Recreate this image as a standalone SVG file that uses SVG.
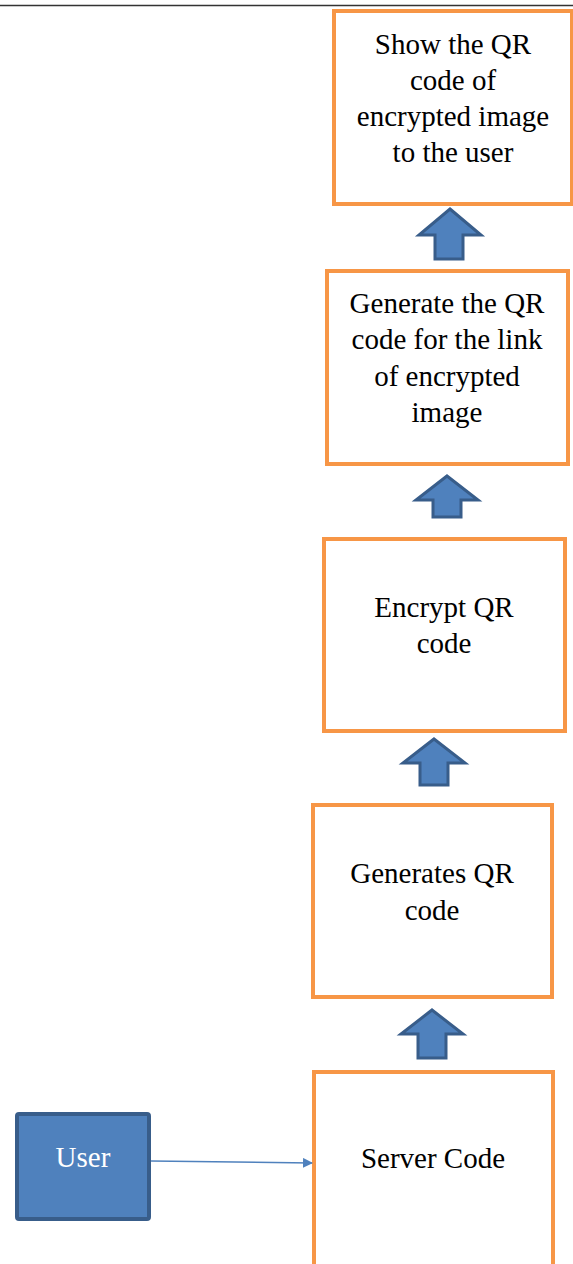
<svg xmlns="http://www.w3.org/2000/svg" width="573" height="1264" viewBox="0 0 573 1264">
<defs>
<style>
.box{fill:#fff;stroke:#F79646;stroke-width:4}
.t{font-family:'Liberation Serif','DejaVu Serif',serif;font-size:29px;fill:#000;text-anchor:middle}
.up{fill:#4F81BD;stroke:#385D8A;stroke-width:3;stroke-linejoin:miter}
</style>
<marker id="ah" markerWidth="10" markerHeight="10" refX="9" refY="5" orient="auto" markerUnits="userSpaceOnUse" viewBox="0 0 10 10">
<path d="M0,0 L10,5 L0,10 z" fill="#4F81BD"/>
</marker>
</defs>
<rect width="573" height="1264" fill="#fff"/>
<line x1="0" y1="5.5" x2="573" y2="5.5" stroke="#333" stroke-width="1.6"/>
<g font-family="Liberation Serif, serif">
<g id="n1"><rect class="box" x="334" y="11" width="238" height="193"/>
<text class="t" font-family="Liberation Serif, serif"><tspan x="453" y="54">Show the QR</tspan><tspan x="453" y="90">code of</tspan><tspan x="453" y="126">encrypted image</tspan><tspan x="453" y="162">to the user</tspan></text></g>
<g id="n2"><rect class="box" x="327" y="271" width="241" height="193"/>
<text class="t" font-family="Liberation Serif, serif"><tspan x="447" y="313">Generate the QR</tspan><tspan x="447" y="349">code for the link</tspan><tspan x="447" y="386">of encrypted</tspan><tspan x="447" y="422">image</tspan></text></g>
<g id="n3"><rect class="box" x="324" y="539" width="241" height="192"/>
<text class="t" font-family="Liberation Serif, serif"><tspan x="444" y="617">Encrypt QR</tspan><tspan x="444" y="653">code</tspan></text></g>
<g id="n4"><rect class="box" x="313" y="805" width="239" height="192"/>
<text class="t" font-family="Liberation Serif, serif"><tspan x="432" y="883">Generates QR</tspan><tspan x="432" y="920">code</tspan></text></g>
<g id="n5"><rect class="box" x="314" y="1072" width="239" height="196"/>
<text class="t" font-family="Liberation Serif, serif" x="433" y="1168">Server Code</text></g>
<g id="user"><rect x="17" y="1114" width="132" height="105" rx="2" fill="#4F81BD" stroke="#385D8A" stroke-width="4"/>
<text class="t" font-family="Liberation Serif, serif" x="83" y="1167" style="fill:#fff">User</text></g>
</g>
<g id="connectors">
<path class="up" d="M450,209 L481,235 L463,235 L463,259 L435,259 L435,235 L419,235 Z"/>
<path class="up" d="M447,476 L478,500 L461,500 L461,517 L433,517 L433,500 L416,500 Z"/>
<path class="up" d="M434,739 L465,763 L448,763 L448,785 L420,785 L420,763 L403,763 Z"/>
<path class="up" d="M432,1010 L463,1034 L446,1034 L446,1058 L418,1058 L418,1034 L401,1034 Z"/>
<line x1="151" y1="1161" x2="312" y2="1163" stroke="#4F81BD" stroke-width="1.5" marker-end="url(#ah)"/>
</g>
</svg>
